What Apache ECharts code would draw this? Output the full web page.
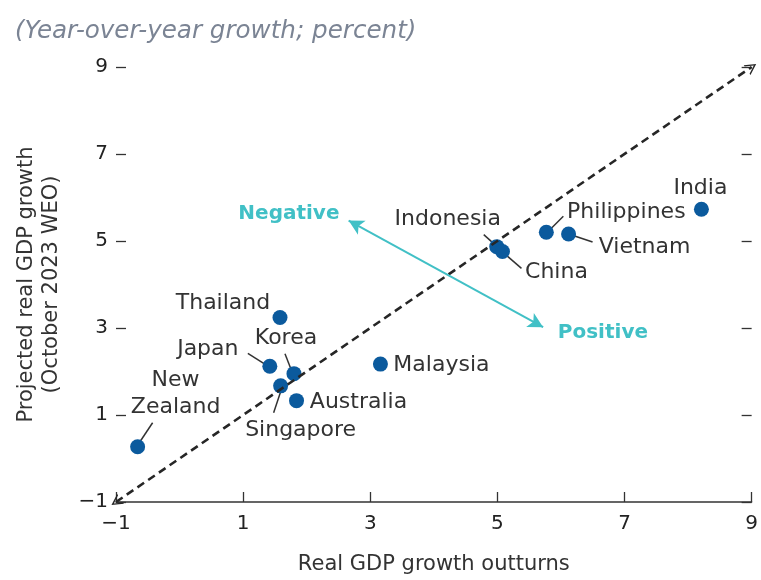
<!DOCTYPE html>
<html>
<head>
<meta charset="utf-8">
<script src="https://cdn.jsdelivr.net/npm/echarts@6/dist/echarts.min.js"></script>
<style>
  html, body { margin: 0; padding: 0; background: #fff; }
  #chart { width: 761px; height: 580px; }
</style>
</head>
<body>
<div id="chart"></div>
<script>
// data
var countries = ['New Zealand', 'Thailand', 'Japan', 'Korea', 'Singapore', 'Australia',
  'Malaysia', 'Indonesia', 'China', 'Philippines', 'Vietnam', 'India'];
var outturn = [-0.66, 1.58, 1.42, 1.80, 1.59, 1.84, 3.16, 4.99, 5.08, 5.77, 6.12, 8.21];
var projected = [0.27, 3.24, 2.12, 1.95, 1.67, 1.33, 2.17, 4.87, 4.76, 5.20, 5.16, 5.73];
var tickValues = [-1, 1, 3, 5, 7, 9];

// label placement (pixel offsets from the dot)
var labelOffsets = [[38, -53], [-57, -14], [-62, -17], [-8, -35], [20, 44], [62, 2],
  [61, 1], [-49, -27], [54, 21], [80, -20], [76, 13], [-1, -21]];
// leader lines: [x1, y1, x2, y2] in pixels from the dot, null = none
var leaders = [[3, -6, 15, -24], null, [-3, -1, -22, -13], [-2, -2, -9, -20], [1, 3, -7, 27], null,
  null, [-3, -3, -13, -12], [4, 4, 19, 17], [4, -3, 17, -16], [6, 2, 24, 8], null];

var font = 'DejaVu Sans';
var teal = '#41c0c6';
var chart = echarts.init(document.getElementById('chart'));

var pointData = countries.map(function (c, i) {
  return {
    name: c,
    value: [outturn[i], projected[i]],
    label: { offset: labelOffsets[i] }
  };
});

var leaderData = [];
countries.forEach(function (c, i) {
  if (leaders[i]) leaderData.push([outturn[i], projected[i]].concat(leaders[i]));
});

function minusFmt(v) { return v < 0 ? '\u2212' + (-v) : String(v); }

var axisCommon = {
  type: 'value',
  min: -1,
  max: 9,
  interval: 2,
  splitLine: { show: false },
  axisTick: { show: true, inside: true, length: 10, lineStyle: { color: '#333', width: 1.3 } }
};

chart.setOption({
  animation: false,
  title: {
    text: '(Year-over-year growth; percent)',
    left: 10,
    top: 14,
    textStyle: { fontFamily: font, fontStyle: 'italic', fontWeight: 'normal', fontSize: 24.6, color: '#7b8494' }
  },
  grid: { left: 116, right: 7, top: 67, bottom: 74 },
  xAxis: Object.assign({}, axisCommon, {
    name: 'Real GDP growth outturns',
    nameLocation: 'middle',
    nameGap: 52,
    nameTextStyle: { fontFamily: font, fontSize: 21, color: '#333' },
    axisLine: { show: true, onZero: false, lineStyle: { color: '#333', width: 1.5 } },
    axisLabel: { margin: 12, fontFamily: font, fontSize: 20, color: '#222', formatter: minusFmt }
  }),
  yAxis: [
    Object.assign({}, axisCommon, {
      name: 'Projected real GDP growth\n(October 2023 WEO)',
      nameLocation: 'middle',
      nameGap: 52,
      nameTextStyle: { fontFamily: font, fontSize: 21, color: '#333', lineHeight: 25 },
      axisLine: { show: false, onZero: false },
      axisLabel: { margin: 8, fontFamily: font, fontSize: 20, color: '#222', formatter: minusFmt }
    }),
    Object.assign({}, axisCommon, {
      position: 'right',
      axisLine: { show: false, onZero: false },
      axisLabel: { show: false }
    })
  ],
  series: [
    {
      // 45-degree line and the teal direction arrow
      type: 'scatter',
      data: [],
      z: 1,
      markLine: {
        silent: true,
        animation: false,
        label: { show: false },
        data: [
          [
            { coord: [tickValues[0], tickValues[0]], symbol: 'path://M0,12 L6,0 L12,12 L10.4,12 L6,3.2 L1.6,12 Z', symbolSize: [12, 11],
              lineStyle: { color: '#262626', width: 2.6, type: [8, 5] } },
            { coord: [tickValues[5], tickValues[5]], symbol: 'path://M0,12 L6,0 L12,12 L10.4,12 L6,3.2 L1.6,12 Z', symbolSize: [12, 11] }
          ],
          [
            { coord: [5.72, 3.02], symbol: 'arrow', symbolSize: [12, 15],
              lineStyle: { color: teal, width: 2, type: 'solid' } },
            { coord: [2.66, 5.47], symbol: 'arrow', symbolSize: [12, 15] }
          ]
        ]
      },
      markPoint: {
        silent: true,
        symbol: 'circle',
        symbolSize: 0,
        label: { show: true, position: 'inside', formatter: '{b}', fontFamily: font,
          fontWeight: 'bold', fontSize: 20, color: teal },
        data: [
          { name: 'Negative', coord: [1.72, 5.63] },
          { name: 'Positive', coord: [6.66, 2.88] }
        ]
      }
    },
    {
      type: 'custom',
      z: 2,
      silent: true,
      data: leaderData,
      renderItem: function (params, api) {
        var p = api.coord([api.value(0), api.value(1)]);
        return {
          type: 'line',
          shape: {
            x1: p[0] + api.value(2), y1: p[1] + api.value(3),
            x2: p[0] + api.value(4), y2: p[1] + api.value(5)
          },
          style: { stroke: '#333', lineWidth: 1.5 }
        };
      }
    },
    {
      type: 'scatter',
      z: 3,
      symbolSize: 15,
      itemStyle: { color: '#0b5a9d', opacity: 1 },
      label: {
        show: true,
        position: 'inside',
        align: 'center',
        verticalAlign: 'middle',
        fontFamily: font,
        fontSize: 22,
        lineHeight: 27,
        color: '#333',
        formatter: function (p) { return p.name.replace('New ', 'New\n'); }
      },
      data: pointData
    }
  ]
});
</script>
</body>
</html>
